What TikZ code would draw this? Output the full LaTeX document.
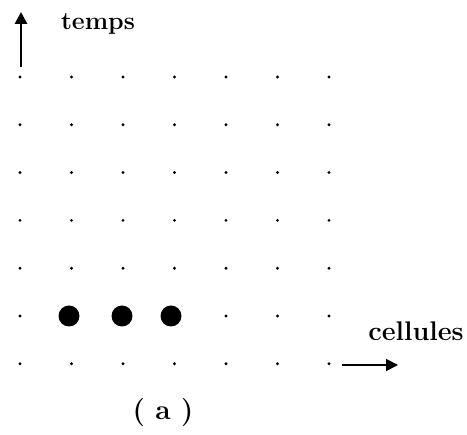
\documentclass[tikz,border=0pt]{standalone}
\usetikzlibrary{arrows.meta}
\begin{document}
\begin{tikzpicture}[x=1pt,y=-1pt,
  smalldot/.style={circle,fill=black,inner sep=0pt,minimum size=3.2pt},
  bigdot/.style={circle,fill=black,inner sep=0pt,minimum size=21pt},
  axisarrow/.style={line width=#1,-{Triangle[length=12pt,width=12pt]}},
  lbl/.style={font=\fontsize{#1}{28}\selectfont\bfseries,inner sep=0pt}]
\useasboundingbox (0,0) rectangle (467,435);
\foreach \i in {0,...,6}{
  \foreach \j in {0,...,6}{
    \ifnum\j=5
      \ifnum\i>0 \ifnum\i<4 \else
        \node[smalldot] (d\i\j) at ({20+51.5*\i},{77+47.8*\j}) {};
      \fi \else
        \node[smalldot] (d\i\j) at ({20+51.5*\i},{77+47.8*\j}) {};
      \fi
    \else
      \node[smalldot] (d\i\j) at ({20+51.5*\i},{77+47.8*\j}) {};
    \fi
  }
}
\node[bigdot] (b1) at (69,316) {};
\node[bigdot] (b2) at (122,316) {};
\node[bigdot] (b3) at (171,316) {};
\coordinate (up0) at (21,67);
\coordinate (up1) at (21,12);
\draw[axisarrow=2.8pt] (up0) -- (up1);
\coordinate (r0) at (342,365);
\coordinate (r1) at (398,365);
\draw[axisarrow=1.8pt] (r0) -- (r1);
\node[lbl=25] (temps) at (98,24) {temps};
\node[lbl=27] (cell) at (416,331) {cellules};
\node[font=\fontsize{28}{32}\selectfont\bfseries,inner sep=0pt] (cap) at (163,413) {( a )};
\end{tikzpicture}
\end{document}
